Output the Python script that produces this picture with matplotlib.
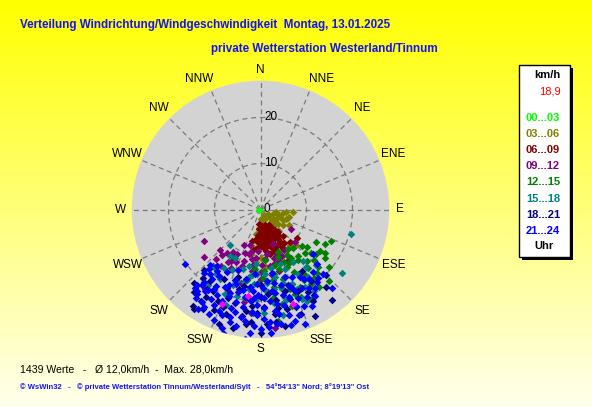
import numpy as np
import matplotlib
matplotlib.use("Agg")
import matplotlib.pyplot as plt
from matplotlib.patches import Rectangle

plt.rcParams['font.family'] = ['Liberation Sans', 'DejaVu Sans']

W, H = 592, 407

# wind data: direction (deg, 0 = N) and speed (km/h) per hour block
dir_0003 = [270]
spd_0003 = [0.4]

dir_0306 = [150, 165, 130, 110, 120, 100, 105, 95, 115, 135, 145, 125, 140, 155, 170, 180, 185, 180,
            178, 183, 180, 175, 170, 160, 150, 155, 145, 140, 135, 150, 165, 188, 190, 112, 100,
            120, 140, 105, 130, 118, 110, 140, 160, 95, 128, 150, 160, 185, 175, 190, 192]
spd_0306 = [1.5, 2, 2.5, 3, 4, 5, 6.5, 7, 5.5, 4, 3.5, 6, 6, 5, 3, 2, 4, 6,
            8, 9, 10.5, 11, 9.5, 8, 9, 10, 8.5, 10, 11, 11.5, 12, 7, 5.5, 4.5, 3.5,
            2, 2, 4, 5, 7, 6, 4.5, 2.5, 5.5, 3.5, 12.5, 11.8, 11.5, 12.5, 8.5, 10]

dir_0609 = [165, 175, 185, 150, 160, 170, 180, 145, 155, 165, 175, 185, 148, 158, 168, 178, 188,
            150, 160, 170, 180, 155, 165, 175, 185, 150, 162, 172, 128, 138, 190, 195, 140, 142, 152,
            155, 165, 175, 183, 150, 160, 170, 180, 146, 153, 163, 173, 183, 153, 165, 175, 185,
            145, 158, 170, 180, 148, 160, 168, 145]
spd_0609 = [3.5, 3.5, 3.2, 4.5, 4.5, 4.5, 4.5, 5.5, 5.5, 5.5, 5.5, 5.5, 6.5, 6.5, 6.5, 6.5, 6.5,
            7.5, 7.5, 7.5, 7.5, 8.5, 8.5, 8.5, 8.5, 9.5, 9.5, 9.2, 10.2, 9.5, 9, 7, 7.5, 6.2, 3.8,
            4, 4, 4, 4.2, 5, 5, 5, 5, 6, 6, 6, 6, 6, 7, 7, 7, 7.2,
            7, 8, 8, 8, 8.5, 9, 9.8, 9]

dir_0912 = [198, 210, 208, 193, 171, 159, 150, 166, 211, 202, 241, 122, 133, 173, 205, 185, 178, 188,
            200, 215, 220, 195, 180, 170, 213, 225, 205, 160, 190, 175, 215, 185, 163, 152, 230, 196,
            183, 190, 200, 210, 218, 175, 165, 155, 188, 198, 207, 222, 170, 180, 195, 212, 220, 160]
spd_0912 = [11.7, 12.9, 10.9, 9.5, 9.7, 10.3, 10.2, 12.2, 17.1, 19.1, 14, 7.8, 10.4, 25.9, 12.7, 10.5, 12, 13.5,
            14, 15, 13, 16.5, 15, 14.5, 11, 12.5, 8.5, 8, 20.5, 18, 21, 22.5, 14, 12.8, 16, 8,
            9, 11, 10, 11.8, 12, 10.8, 11, 11.2, 12.2, 13, 14.2, 14.5, 12.5, 13.5, 10, 13.5, 16, 12]

dir_1215 = [129, 129, 114, 124, 144, 155, 146, 135, 168, 177, 191, 171, 158, 140, 150, 160, 132, 138,
            152, 162, 170, 142, 130, 165, 175, 148, 155, 136, 120, 182, 158, 145, 172, 185, 150, 162,
            134, 141, 148, 156, 163, 127, 133, 141, 149, 157, 165, 138, 146, 153, 160, 131, 125, 118,
            143, 167, 152, 170, 178]
spd_1215 = [13.1, 15.4, 16.7, 16.8, 13.7, 13.8, 16.9, 17.7, 14.3, 13.3, 15.7, 24.5, 19.8, 11, 11.5, 11, 12, 15,
            15.5, 16, 17, 19, 19.5, 12.5, 11, 18, 21, 21.5, 14, 16, 10, 10.5, 19.5, 13, 22.5, 22,
            13.5, 13, 12.5, 12.5, 13.5, 17.5, 16, 16.5, 16.5, 17.5, 17.5, 18.5, 19.5, 19, 18.5, 14.5, 15.8, 16,
            21, 21, 13.2, 15.5, 14.8]

dir_1518 = [105, 128, 221, 219, 153, 147, 161, 150, 183, 198, 170, 175, 190, 165, 155, 145, 140, 180,
            195, 205, 210, 185, 160, 172, 200, 215, 135, 158, 178, 188, 168, 192, 148, 208, 215,
            163, 170, 177, 185, 193, 200, 157, 150, 142, 183, 190, 203, 176, 187, 196, 212, 164, 155,
            184, 168, 213]
spd_1518 = [20.4, 22.5, 10.1, 16.2, 22.3, 21.2, 15.6, 16.2, 14, 16.3, 13, 16, 15, 18, 19, 18, 14.5, 19,
            19.5, 14.5, 17.5, 12, 12.5, 20.5, 22, 20, 17, 14, 22.5, 17.5, 15, 12.5, 13.5, 12, 17,
            16.8, 17.5, 17.5, 16.2, 16.2, 17.5, 17.5, 19.5, 16, 19.5, 19.5, 20, 14, 14.3, 13.5, 15, 20.5, 21.5,
            22.5, 23.5, 12]

dir_1821 = [146, 160, 180, 195, 215, 223, 214, 213, 142, 148, 187, 177, 159, 201, 170, 185, 205, 155, 165, 190,
            222, 175, 198, 188, 168, 208, 214, 150, 135, 218, 219, 172, 195, 210, 162, 182, 140, 153, 193, 203,
            180, 192, 200, 212, 220, 210, 163, 170, 178, 188, 198, 185, 172, 160, 150, 145, 205, 215, 200, 180]
spd_1821 = [16, 17.5, 16.5, 18, 19, 18, 20.9, 23.8, 25.1, 21.8, 25.1, 25, 24.4, 22.8, 20, 21, 24, 19.5, 22.5, 23.5,
            21.5, 18.5, 15.5, 19.5, 26, 17, 26, 23, 20, 15.5, 23, 23, 21, 20.5, 20.5, 22.5, 22, 26, 26.5, 18.5,
            19, 17, 20.5, 22.5, 19.5, 25, 18.5, 21.8, 21.2, 22.3, 24, 24.5, 24.8, 22.5, 20.8, 19, 22, 25.5, 26.5, 26.8]

dir_2124 = [170, 185, 200,
            160, 175, 192, 208, 218,
            155, 170, 183, 200, 215, 222,
            150, 165, 178, 188, 198, 212, 221,
            148, 160, 172, 185, 192, 203, 218, 140,
            145, 158, 170, 182, 195, 205, 215, 222,
            140, 152, 165, 178, 190, 200, 210, 157, 184,
            148, 162, 174, 186, 200, 210, 218, 142,
            145, 157, 170, 182, 195, 207, 218, 213,
            152, 166, 178, 190, 203, 214, 220,
            148, 160, 172, 185, 197, 209, 220,
            156, 170, 182, 194, 206, 217,
            152, 165, 178, 190, 202, 212, 216,
            160, 175, 188, 200, 210,
            163, 170, 183, 195, 206,
            165, 180, 192, 203,
            175, 185, 198,
            234, 197, 187, 138, 159, 212, 218, 134, 130, 136, 176, 172, 196]
spd_2124 = [14, 14, 14,
            15.5, 15.5, 15.5, 15.5, 15.5,
            16.3, 16.3, 16.3, 16.3, 16.3, 16.3,
            17, 17, 17, 17, 17, 17, 17,
            17.8, 17.8, 17.8, 17.8, 17.8, 17.8, 17.8, 17.8,
            18.5, 18.5, 18.5, 18.5, 18.5, 18.5, 18.5, 18.5,
            19.3, 19.3, 19.3, 19.3, 19.3, 19.3, 19.3, 19.3, 19.3,
            20, 20, 20, 20, 20, 20, 20, 20,
            20.8, 20.8, 20.8, 20.8, 20.8, 20.8, 20.8, 20.8,
            21.5, 21.5, 21.5, 21.5, 21.5, 21.5, 21.5,
            22.3, 22.3, 22.3, 22.3, 22.3, 22.3, 22.3,
            23, 23, 23, 23, 23, 23,
            23.8, 23.8, 23.8, 23.8, 23.8, 23.8, 23.8,
            24.5, 24.5, 24.5, 24.5, 24.5,
            25.3, 25.3, 25.3, 25.3, 25.3,
            26, 26, 26, 26,
            27, 27, 27,
            20.2, 28, 28.3, 23.1, 26.7, 25.5, 22.5, 17.1, 14.9, 19.5, 25.7, 25.1, 24.4]

dir_mark = [202, 161, 188]
spd_mark = [22.2, 21.7, 19]

hour_labels = ['00...03', '03...06', '06...09', '09...12', '12...15', '15...18', '18...21', '21...24']
hour_colors = ['#00ff00', '#808000', '#800000', '#800080', '#008000', '#008080', '#000080', '#0000ff']
compass = ['N', 'NNE', 'NE', 'ENE', 'E', 'ESE', 'SE', 'SSE',
           'S', 'SSW', 'SW', 'WSW', 'W', 'WNW', 'NW', 'NNW']
ring_values = [0, 10, 20]
max_speed = 28.0

fig = plt.figure(figsize=(W / 100, H / 100), dpi=100)

# yellow gradient background
bg = fig.add_axes([0, 0, 1, 1])
grad = np.linspace(0, 1, 256)[:, None]
img = np.ones((256, 2, 3))
img[:, :, 2] = (grad * 0.93)
bg.imshow(img, aspect='auto', extent=[0, 1, 0, 1])
bg.set_axis_off()

# polar plot
cx, cy, rad = 260.5, 209.5, 128.8
ax = fig.add_axes([(cx - rad) / W, (H - cy - rad) / H, 2 * rad / W, 2 * rad / H], projection='polar')
ax.set_facecolor('#d3d3d3')
ax.spines['polar'].set_visible(False)
ax.set_theta_zero_location('N')
ax.set_theta_direction(-1)
ax.set_ylim(0, max_speed)
ax.set_yticks([10, 20])
ax.set_yticklabels([])
ax.set_xticks(np.deg2rad(np.arange(0, 360, 22.5)))
ax.set_xticklabels([])
ax.grid(color='#7a7a7a', linestyle=(0, (4, 3)), linewidth=0.9)

for r in ring_values:
    ax.annotate(str(r), xy=(0, r), xytext=(2.5, 0), textcoords='offset points',
                ha='left', va='center', fontsize=8.5, color='black')

for i, lab in enumerate(compass):
    ang = i * 22.5
    rr = 30.4 if len(lab) == 1 else 31.3
    # three-letter labels next to N/S sit a bit further round
    if lab in ('NNE', 'SSW'):
        ang += 2.5
    elif lab in ('NNW', 'SSE'):
        ang -= 2.5
    ax.text(np.deg2rad(ang), rr, lab, ha='center', va='center', fontsize=8.5, clip_on=False)

groups = [(dir_0003, spd_0003), (dir_0306, spd_0306), (dir_0609, spd_0609), (dir_0912, spd_0912),
          (dir_1215, spd_1215), (dir_1518, spd_1518), (dir_1821, spd_1821), (dir_2124, spd_2124)]
for (d, s), col in zip(groups, hour_colors):
    ax.scatter(np.deg2rad(d), s, marker='D', s=15, color=col, linewidths=0, zorder=3)
ax.scatter(np.deg2rad(dir_mark), spd_mark, marker='D', s=15, color='#ff00ff', linewidths=0, zorder=4)

# titles
fig.text(20 / W, 1 - 25 / H, 'Verteilung Windrichtung/Windgeschwindigkeit  Montag, 13.01.2025',
         fontsize=8.4, fontweight='bold', color='#1414f0', va='center', ha='left')
fig.text(211 / W, 1 - 49 / H, 'private Wetterstation Westerland/Tinnum',
         fontsize=8.4, fontweight='bold', color='#1414f0', va='center', ha='left')

# legend box
lx0, ly0, lx1, ly1 = 519, 65, 570, 257
fig.patches.append(Rectangle(((lx0 + 3) / W, 1 - (ly1 + 3) / H), (lx1 - lx0) / W, (ly1 - ly0) / H,
                             transform=fig.transFigure, facecolor='black', edgecolor='none'))
fig.patches.append(Rectangle((lx0 / W, 1 - ly1 / H), (lx1 - lx0) / W, (ly1 - ly0) / H,
                             transform=fig.transFigure, facecolor='white', edgecolor='black', linewidth=1))
fig.text(547 / W, 1 - 75 / H, 'km/h', fontsize=8, fontweight='bold', ha='center', va='center')
fig.text(561 / W, 1 - 92 / H, '18,9', fontsize=8, color='#ff0000', ha='right', va='center')
for i, (lab, col) in enumerate(zip(hour_labels, hour_colors)):
    fig.text(543 / W, 1 - (118 + i * 16.1) / H, lab, fontsize=8, fontweight='bold', color=col,
             ha='center', va='center')
fig.text(544 / W, 1 - 246 / H, 'Uhr', fontsize=8, fontweight='bold', ha='center', va='center')

# footer
fig.text(20 / W, 1 - 369 / H, '1439 Werte   -   Ø 12,0km/h  -  Max. 28,0km/h',
         fontsize=7.6, color='black', ha='left', va='center')
fig.text(20 / W, 1 - 387 / H,
         '© WsWin32   -   © private Wetterstation Tinnum/Westerland/Sylt   -   54°54\'13" Nord; 8°19\'13" Ost',
         fontsize=5.5, fontweight='bold', color='#1414f0', ha='left', va='center')

fig.savefig('out.png', dpi=100)
